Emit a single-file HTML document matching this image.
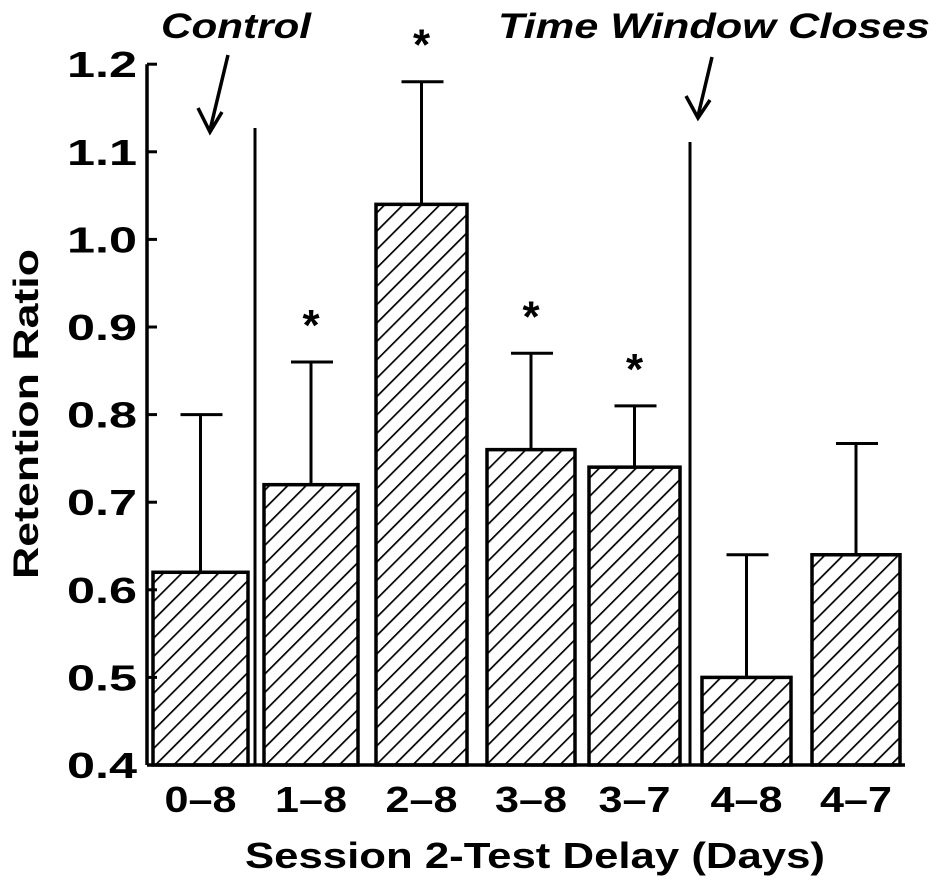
<!DOCTYPE html>
<html><head><meta charset="utf-8"><style>
body{margin:0;background:#fff}
svg{display:block}
text{font-family:"Liberation Sans",Arial,sans-serif;font-weight:bold;fill:#000}
</style></head><body>
<svg id="chart" width="938" height="887" viewBox="0 0 938 887" style="position:absolute;left:0;top:0">
<defs>
<pattern id="hatch" patternUnits="userSpaceOnUse" width="13" height="13" patternTransform="rotate(45)">
<line x1="0" y1="0" x2="0" y2="13" stroke="#000" stroke-width="3.4"/>
</pattern>
</defs>
<g id="axes"></g>
<g id="marks"></g>
<g id="annot"></g>
</svg>
<script>
const categories=["0–8","1–8","2–8","3–8","3–7","4–8","4–7"];
const values=[0.62,0.72,1.04,0.76,0.74,0.50,0.64];
const errTop=[0.80,0.86,1.18,0.87,0.81,0.64,0.767];
const significant=[false,true,true,true,true,false,false];
const yTicks=[0.4,0.5,0.6,0.7,0.8,0.9,1.0,1.1,1.2];
const yTickLabels=["0.4","0.5","0.6","0.7","0.8","0.9","1.0","1.1","1.2"];

const NS="http://www.w3.org/2000/svg";
const y0=765, yPer=876;
function y(v){return y0-(v-0.4)*yPer;}
const barLeft=[153,264,376,487,589,702,812];
const barW=[95,94,91,88,91,89,88];
function mk(tag,attrs,parent){const e=document.createElementNS(NS,tag);for(const k in attrs)e.setAttribute(k,attrs[k]);parent.appendChild(e);return e;}
const axes=document.getElementById('axes'),marks=document.getElementById('marks'),annot=document.getElementById('annot');

let e=mk('line',{x1:147,y1:y(1.2),x2:147,y2:y0,stroke:'#000','stroke-width':3.5},axes);


e=mk('line',{x1:147,y1:y0,x2:905,y2:y0,stroke:'#000','stroke-width':3.5},axes);


yTicks.forEach((t,i)=>{
  let tk=mk('line',{x1:147,y1:y(t),x2:157,y2:y(t),stroke:'#000','stroke-width':3},axes);
  
  
  let tl=mk('text',{x:137,y:y(t)+13,'text-anchor':'end','font-size':36,textLength:70,lengthAdjust:'spacingAndGlyphs'},axes);
  tl.textContent=yTickLabels[i];
  
  
});
let yt=mk('text',{x:0,y:0,'text-anchor':'middle','font-size':35,textLength:330,lengthAdjust:'spacingAndGlyphs',transform:'translate(38,414) rotate(-90)'},axes);
yt.textContent="Retention Ratio";


let xt=mk('text',{x:535,y:868,'text-anchor':'middle','font-size':36,textLength:580,lengthAdjust:'spacingAndGlyphs'},axes);
xt.textContent="Session 2-Test Delay (Days)";



categories.forEach((c,i)=>{
  const x=barLeft[i],w=barW[i],cx=x+w/2;
  let eb=mk('line',{x1:cx,y1:y(errTop[i]),x2:cx,y2:y(values[i]),stroke:'#000','stroke-width':3},marks);
  
  
  let cap=mk('line',{x1:cx-20,y1:y(errTop[i]),x2:cx+22,y2:y(errTop[i]),stroke:'#000','stroke-width':3},marks);
  
  
  let r=mk('rect',{x:x,y:y(values[i]),width:w,height:y0-y(values[i]),fill:'url(#hatch)',stroke:'#000','stroke-width':3.5},marks);
  
  
  let tl=mk('text',{x:cx,y:812,'text-anchor':'middle','font-size':36,textLength:72,lengthAdjust:'spacingAndGlyphs'},axes);
  tl.textContent=c;
  
  
  if(significant[i]){
    let s=mk('text',{x:cx,y:y(errTop[i])-22,'text-anchor':'middle','font-size':44},annot);
    s.textContent="*";
    
    
  }
});
</script>
<svg style="position:absolute;left:0;top:0" width="938" height="887">
<line x1="255" y1="128" x2="255" y2="765" stroke="#000" stroke-width="3"/>
<line x1="690" y1="142" x2="690" y2="765" stroke="#000" stroke-width="3"/>
<text x="236" y="38" text-anchor="middle" font-size="35" font-style="italic" textLength="150" lengthAdjust="spacingAndGlyphs" style="font-family:'Liberation Sans',sans-serif;font-weight:bold">Control</text>
<path d="M228 55 L210 130 M198 108 L210 132 L222 112" stroke="#000" stroke-width="3.5" fill="none"/>
<text x="714" y="38" text-anchor="middle" font-size="35" font-style="italic" textLength="432" lengthAdjust="spacingAndGlyphs" style="font-family:'Liberation Sans',sans-serif;font-weight:bold">Time Window Closes</text>
<path d="M712 57 L698 116 M686 96 L698 118 L710 100" stroke="#000" stroke-width="3.5" fill="none"/>
</svg>
</body></html>
